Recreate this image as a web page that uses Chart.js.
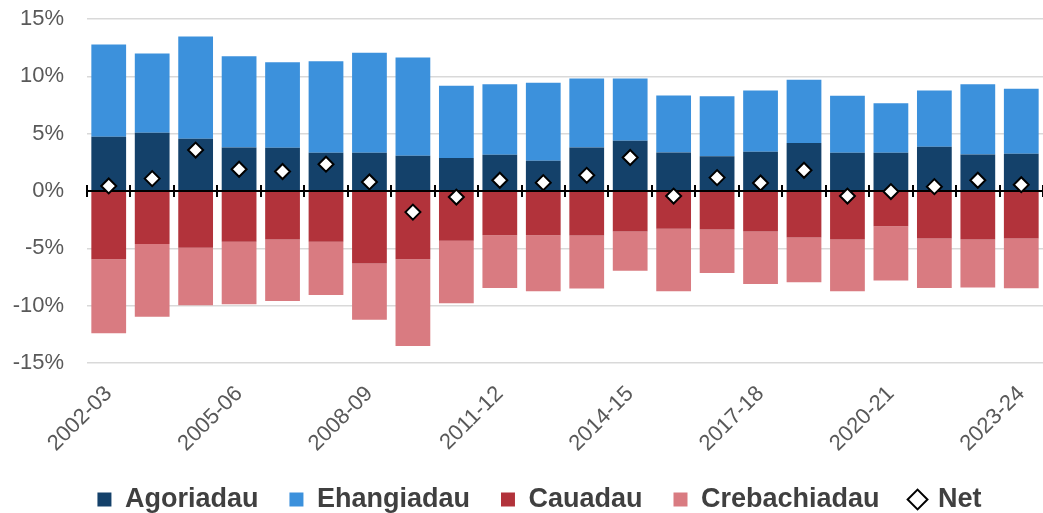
<!DOCTYPE html>
<html>
<head>
<meta charset="utf-8">
<script src="https://cdn.jsdelivr.net/npm/chart.js@4/dist/chart.umd.min.js"></script>
<style>
  html, body { margin: 0; padding: 0; background: #ffffff; overflow: hidden; }
  #wrap { width: 1043px; height: 513px; position: relative; }
</style>
</head>
<body>
<div id="wrap"><canvas id="c"></canvas></div>
<script>
const categories = ["2002-03","2003-04","2004-05","2005-06","2006-07","2007-08","2008-09","2009-10","2010-11","2011-12","2012-13","2013-14","2014-15","2015-16","2016-17","2017-18","2018-19","2019-20","2020-21","2021-22","2022-23","2023-24"];
const agoriadau = [4.74,5.09,4.56,3.80,3.77,3.33,3.33,3.07,2.87,3.16,2.63,3.80,4.39,3.36,3.04,3.42,4.18,3.33,3.33,3.86,3.19,3.25];
const ehangiadau = [8.04,6.90,8.92,7.95,7.46,7.99,8.72,8.57,6.31,6.14,6.81,6.02,5.43,4.97,5.23,5.35,5.53,4.97,4.33,4.91,6.11,5.67];
const cauadau = [-5.96,-4.62,-4.94,-4.42,-4.24,-4.42,-6.32,-5.96,-4.33,-3.86,-3.86,-3.89,-3.54,-3.30,-3.36,-3.54,-4.06,-4.24,-3.07,-4.15,-4.24,-4.15];
const crebachiadau = [-6.44,-6.34,-5.03,-5.46,-5.35,-4.64,-4.91,-7.55,-5.46,-4.59,-4.88,-4.62,-3.42,-5.44,-3.80,-4.56,-3.89,-4.50,-4.74,-4.30,-4.18,-4.33];
const net = [0.44,1.08,3.57,1.90,1.70,2.34,0.79,-1.84,-0.53,0.94,0.73,1.37,2.92,-0.44,1.17,0.70,1.81,-0.44,-0.05,0.38,0.94,0.55];
const yTicks = [-15,-10,-5,0,5,10,15];

const FONT = "'Liberation Sans', Arial, sans-serif";

const zeroAxis = {
  id: 'zeroAxis',
  afterLayout(chart) {
    if (chart.legend) { chart.legend.left += 12; chart.legend.right += 12; }
  },
  beforeDatasetDraw(chart, args) {
    if (args.index !== 4) return;
    const ctx = chart.ctx;
    const xs = chart.scales.x, ys = chart.scales.y;
    const y0 = ys.getPixelForValue(0);
    ctx.save();
    ctx.strokeStyle = '#000000';
    ctx.lineWidth = 2;
    ctx.beginPath();
    ctx.moveTo(xs.left, y0);
    ctx.lineTo(xs.right, y0);
    const n = categories.length;
    for (let i = 0; i <= n; i++) {
      const x = Math.round(xs.left + i * (xs.right - xs.left) / n);
      ctx.moveTo(x, y0 - 6);
      ctx.lineTo(x, y0 + 6);
    }
    ctx.stroke();
    ctx.restore();
  }
};

new Chart(document.getElementById('c'), {
  type: 'bar',
  data: {
    labels: categories,
    datasets: [
      { label: 'Agoriadau', data: agoriadau, backgroundColor: '#14416a', stack: 's', order: 1 },
      { label: 'Ehangiadau', data: ehangiadau, backgroundColor: '#3c91dc', stack: 's', order: 1 },
      { label: 'Cauadau', data: cauadau, backgroundColor: '#b2333b', stack: 's', order: 1 },
      { label: 'Crebachiadau', data: crebachiadau, backgroundColor: '#d97b81', stack: 's', order: 1 },
      { label: 'Net', data: net, type: 'line', showLine: false, stack: 'net', order: 0,
        pointStyle: 'rectRot', pointRadius: 7.5, pointHoverRadius: 7.5,
        pointBackgroundColor: '#ffffff', pointBorderColor: '#000000', pointBorderWidth: 2,
        backgroundColor: '#ffffff', borderColor: '#000000' }
    ]
  },
  options: {
    responsive: true,
    maintainAspectRatio: false,
    animation: false,
    layout: { autoPadding: false, padding: { left: 12, right: 0, top: 19, bottom: -10 } },
    datasets: { bar: { barPercentage: 0.8, categoryPercentage: 1.0 } },
    scales: {
      x: {
        stacked: true,
        offset: true,
        grid: { display: false, drawTicks: false },
        border: { display: false },
        afterFit: function(s) { s.paddingLeft = 0; s.paddingRight = 0; s.height = 92; },
        ticks: {
          autoSkip: false,
          maxRotation: 45, minRotation: 45,
          padding: 18,
          color: '#595959',
          font: { family: FONT, size: 22 },
          callback: function(v, i) { return i % 3 === 0 ? categories[i] : ''; }
        }
      },
      y: {
        stacked: true,
        min: -15, max: 15,
        afterBuildTicks: function(axis) { axis.ticks = yTicks.map(v => ({ value: v })); },
        afterFit: function(s) { s.paddingTop = 0; s.paddingBottom = 0; s.width = 75; },
        grid: { color: '#d9d9d9', lineWidth: 1.5, drawTicks: false },
        border: { display: false },
        ticks: {
          padding: 23,
          color: '#595959',
          font: { family: FONT, size: 22 },
          callback: function(v) { return v + '%'; }
        }
      }
    },
    plugins: {
      tooltip: { enabled: false },
      legend: {
        position: 'bottom',
        labels: {
          usePointStyle: true,
          boxWidth: 14, boxHeight: 14,
          padding: 31,
          color: '#404040',
          font: { family: FONT, size: 27, weight: 'bold' },
          sort: function(a, b) { return a.datasetIndex - b.datasetIndex; },
          generateLabels: function(chart) {
            const items = Chart.defaults.plugins.legend.labels.generateLabels(chart);
            items.forEach(function(it) {
              if (it.datasetIndex === 4) {
                it.pointStyle = 'rectRot';
                it.fillStyle = '#ffffff';
                it.strokeStyle = '#000000';
                it.lineWidth = 2;
              } else {
                it.pointStyle = 'rect';
                it.lineWidth = 0;
                it.strokeStyle = it.fillStyle;
              }
            });
            return items;
          }
        }
      }
    }
  },
  plugins: [zeroAxis]
});
</script>
</body>
</html>
